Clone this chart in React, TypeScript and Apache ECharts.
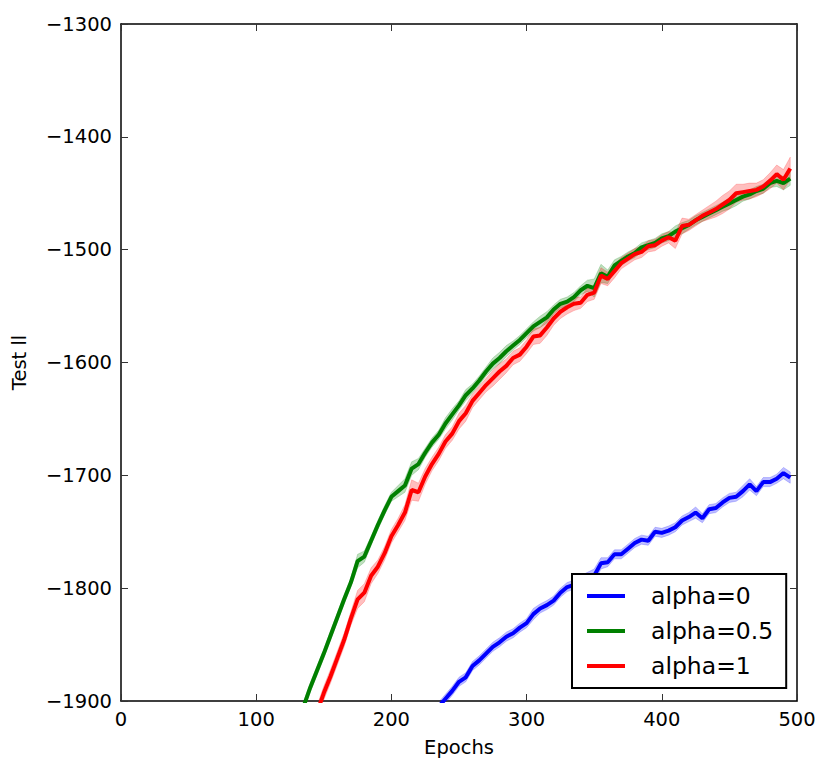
import React, { useEffect, useRef } from "react";
import * as echarts from "echarts";

const xTicks = [0, 100, 200, 300, 400, 500];
const yTicks = [-1900, -1800, -1700, -1600, -1500, -1400, -1300];

const legendNames = ["alpha=0", "alpha=0.5", "alpha=1"];

// sampling grid (every 5 epochs)
const greenStart = 135;
const redStart = 145;
const blueStart = 235;

const greenMean = [
  -1905, -1888, -1873, -1858, -1842, -1826, -1810, -1795, -1776, -1772,
  -1758, -1744, -1731, -1719, -1714, -1709, -1694, -1690, -1680, -1671,
  -1664, -1654, -1646, -1638, -1629, -1623, -1616, -1608, -1601, -1596,
  -1590, -1585, -1580, -1574, -1568, -1564, -1560, -1553, -1548, -1546,
  -1542, -1536, -1532, -1534, -1521, -1524, -1514, -1510, -1506, -1503,
  -1498, -1496, -1494, -1490, -1488, -1484, -1481, -1478, -1474, -1471,
  -1468, -1465, -1462, -1459, -1456, -1453, -1451, -1448, -1446, -1441,
  -1439, -1441, -1437,
];
const greenSpread = [
  4, 4, 4, 4, 4, 4, 4, 4, 6, 5,
  4, 4, 4, 4, 5, 6, 6, 5, 4, 4,
  4, 5, 5, 4, 5, 4, 4, 4, 5, 5,
  5, 4, 4, 4, 4, 5, 5, 4, 4, 4,
  4, 4, 5, 8, 8, 6, 5, 4, 4, 4,
  4, 4, 4, 4, 4, 5, 5, 4, 4, 4,
  4, 4, 4, 5, 5, 4, 4, 4, 4, 4,
  5, 6, 6,
];

const redMean = [
  -1910, -1893, -1878, -1862, -1846, -1827, -1810, -1804, -1789, -1781,
  -1769, -1754, -1744, -1733, -1713, -1715, -1701, -1690, -1681, -1670,
  -1663, -1652, -1645, -1634, -1627, -1620, -1614, -1608, -1603, -1596,
  -1593, -1586, -1577, -1576, -1569, -1561, -1555, -1551, -1548, -1547,
  -1540, -1538, -1523, -1526, -1519, -1512, -1508, -1504, -1502, -1497,
  -1496, -1492, -1489, -1492, -1479, -1478, -1474, -1470, -1467, -1464,
  -1460, -1456, -1450, -1449, -1448, -1447, -1444, -1439, -1433, -1438,
  -1428,
];
const redSpread = [
  6, 6, 6, 6, 6, 6, 8, 8, 7, 6,
  6, 6, 6, 7, 9, 8, 7, 6, 6, 6,
  6, 7, 7, 6, 6, 6, 7, 7, 6, 6,
  6, 6, 7, 7, 7, 6, 6, 6, 6, 5,
  6, 6, 7, 6, 6, 5, 5, 5, 5, 5,
  5, 5, 5, 7, 7, 5, 5, 5, 6, 7,
  8, 8, 8, 7, 7, 6, 6, 7, 8, 9,
  10,
];

const blueMean = [
  -1905, -1898, -1891, -1883, -1879, -1869, -1864, -1858, -1852, -1848,
  -1843, -1840, -1835, -1831, -1823, -1818, -1815, -1811, -1804, -1799,
  -1797, -1793, -1791, -1789, -1778, -1777, -1770, -1770, -1765, -1760,
  -1757, -1758, -1750, -1751, -1749, -1746, -1740, -1737, -1733, -1738,
  -1730, -1729, -1724, -1720, -1719, -1714, -1708, -1714, -1706, -1706,
  -1703, -1698, -1702,
];
const blueSpread = [
  4, 4, 4, 4, 4, 4, 4, 4, 4, 4,
  4, 4, 4, 4, 5, 4, 4, 4, 4, 4,
  4, 4, 5, 6, 5, 4, 4, 4, 4, 4,
  4, 4, 4, 4, 4, 4, 4, 4, 5, 4,
  4, 4, 4, 4, 4, 5, 5, 4, 4, 4,
  4, 5, 5,
];

const FONT = "DejaVu Sans";
const minus = (v: number) => String(v).replace("-", "\u2212");

function epochsFrom(start: number, n: number) {
  return Array.from({ length: n }, (_, i) => start + 5 * i);
}

// band as one polygon (mean - spread .. mean + spread), via the axes' scales
function bandSeries(
  id: string,
  start: number,
  mean: number[],
  spread: number[],
  fill: string
) {
  const ep = epochsFrom(start, mean.length);
  const rows = mean.map((m, i) => [ep[i], m - spread[i], m + spread[i]]);
  return {
    type: "custom",
    name: id + "_band",
    silent: true,
    clip: true,
    z: 1,
    data: [[ep[0], mean[0]]],
    renderItem: (params: any, api: any) => {
      const upper = rows.map((r) => api.coord([r[0], r[2]]));
      const lower = rows.map((r) => api.coord([r[0], r[1]])).reverse();
      const cs = params.coordSys;
      return {
        type: "group",
        children: [
          {
            type: "polygon",
            shape: { points: upper.concat(lower) },
            style: { fill, stroke: fill, lineWidth: 0.8 },
          },
        ],
        clipPath: {
          type: "rect",
          shape: { x: cs.x, y: cs.y, width: cs.width, height: cs.height },
        },
      };
    },
  };
}

function meanSeries(name: string, start: number, mean: number[], color: string) {
  const ep = epochsFrom(start, mean.length);
  return {
    type: "line",
    name,
    data: mean.map((m, i) => [ep[i], m]),
    symbol: "none",
    color,
    lineStyle: { width: 4, color },
    z: 3,
  };
}

export default function App() {
  const ref = useRef<HTMLDivElement>(null);
  useEffect(() => {
    if (!ref.current) return;
    const chart = echarts.init(ref.current, undefined, { renderer: "svg" });
    const axisText = { fontFamily: FONT, fontSize: 19.5, color: "#000" };
    const tick = { show: true, inside: true, length: 7, lineStyle: { color: "#333", width: 1 } };
    const spine = { show: true, onZero: false, lineStyle: { color: "#000", width: 1.5 } };
    const option = {
      animation: false,
      backgroundColor: "#fff",
      grid: { left: 121, top: 24, right: 34, bottom: 72, containLabel: false },
      legend: {
        data: legendNames,
        orient: "vertical",
        left: 572,
        top: 574,
        icon: "rect",
        itemWidth: 38,
        itemHeight: 4,
        itemGap: 11,
        padding: [10, 13, 10, 15],
        borderColor: "#000",
        borderWidth: 2,
        borderRadius: 0,
        backgroundColor: "#fff",
        selectedMode: false,
        textStyle: {
          fontFamily: FONT,
          fontSize: 23.5,
          color: "#000",
          lineHeight: 24,
          padding: [0, 0, 0, 21],
        },
        z: 10,
      },
      xAxis: [
        {
          type: "value",
          min: xTicks[0],
          max: xTicks[xTicks.length - 1],
          interval: 100,
          name: "Epochs",
          nameLocation: "middle",
          nameGap: 36,
          nameTextStyle: axisText,
          axisLine: spine,
          axisTick: tick,
          axisLabel: { ...axisText, margin: 8, formatter: (v: number) => minus(v) },
          splitLine: { show: false },
        },
        {
          type: "value",
          position: "top",
          min: xTicks[0],
          max: xTicks[xTicks.length - 1],
          interval: 100,
          axisLine: spine,
          axisTick: tick,
          axisLabel: { show: false },
          splitLine: { show: false },
        },
      ],
      yAxis: [
        {
          type: "value",
          min: yTicks[0],
          max: yTicks[yTicks.length - 1],
          interval: 100,
          name: "Test ll",
          nameLocation: "middle",
          nameGap: 92,
          nameTextStyle: axisText,
          axisLine: spine,
          axisTick: tick,
          axisLabel: { ...axisText, margin: 9, formatter: (v: number) => minus(v) },
          splitLine: { show: false },
        },
        {
          type: "value",
          position: "right",
          min: yTicks[0],
          max: yTicks[yTicks.length - 1],
          interval: 100,
          axisLine: spine,
          axisTick: tick,
          axisLabel: { show: false },
          splitLine: { show: false },
        },
      ],
      series: [
        bandSeries("b", blueStart, blueMean, blueSpread, "rgba(0,0,255,0.25)"),
        bandSeries("g", greenStart, greenMean, greenSpread, "rgba(0,128,0,0.25)"),
        bandSeries("r", redStart, redMean, redSpread, "rgba(255,0,0,0.25)"),
        meanSeries(legendNames[0], blueStart, blueMean, "#0000ff"),
        meanSeries(legendNames[1], greenStart, greenMean, "#008000"),
        meanSeries(legendNames[2], redStart, redMean, "#ff0000"),
      ],
    };
    chart.setOption(option as any);
    return () => chart.dispose();
  }, []);
  return (
    <div
      ref={ref}
      style={{ position: "absolute", left: 0, top: 0, width: 831, height: 773 }}
    />
  );
}
